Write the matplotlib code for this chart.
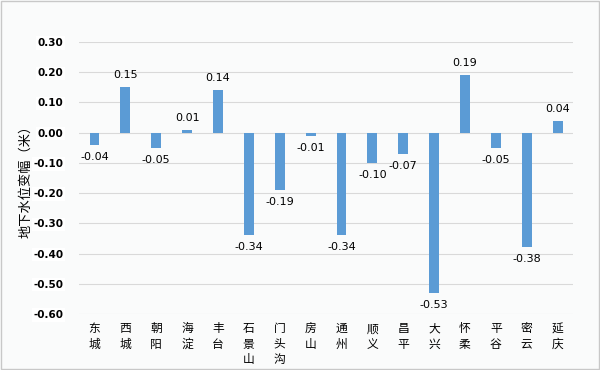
import matplotlib.pyplot as plt
import numpy as np

plt.rcParams['font.family'] = ['Noto Sans CJK SC', 'DejaVu Sans']

districts = ['东城', '西城', '朝阳', '海淀', '丰台', '石景山', '门头沟', '房山',
             '通州', '顺义', '昌平', '大兴', '怀柔', '平谷', '密云', '延庆']
changes = [-0.04, 0.15, -0.05, 0.01, 0.14, -0.34, -0.19, -0.01,
           -0.34, -0.10, -0.07, -0.53, 0.19, -0.05, -0.38, 0.04]
yticks = [0.30, 0.20, 0.10, 0.00, -0.10, -0.20, -0.30, -0.40, -0.50, -0.60]

bar_color = '#5b9bd5'
bg = '#fafbfb'

fig = plt.figure(figsize=(6, 3.7), dpi=100, facecolor=bg)
ax = fig.add_axes([0.1317, 0.1514, 0.8233, 0.7351])
ax.set_facecolor(bg)

x = np.arange(len(districts))
ax.bar(x, changes, width=0.32, color=bar_color, zorder=3)

ax.set_xlim(-0.5, len(districts) - 0.5)
ax.set_ylim(-0.6, 0.3)
ax.set_yticks(yticks)
ax.set_yticklabels(['%.2f' % v for v in yticks], fontsize=7.5, fontweight='bold',
                   family=['DejaVu Sans'],
                   bbox=dict(facecolor='white', edgecolor='none', pad=1.2))
ax.grid(axis='y', color='#d9d9d9', linewidth=0.8, zorder=0)
ax.tick_params(axis='y', length=0, pad=11)
ax.tick_params(axis='x', length=0, pad=6)
for s in ax.spines.values():
    s.set_visible(False)

ax.set_xticks(x)
ax.set_xticklabels(['\n'.join(d) for d in districts], fontsize=8.5,
                   linespacing=1.25, va='top')

# data labels
for xi, v in zip(x, changes):
    if v >= 0:
        ax.annotate('%.2f' % v, (xi, v), xytext=(0, 5), textcoords='offset points',
                    ha='center', va='bottom', fontsize=8, family=['DejaVu Sans'])
    else:
        ax.annotate('%.2f' % v, (xi, v), xytext=(0, -5), textcoords='offset points',
                    ha='center', va='top', fontsize=8, family=['DejaVu Sans'])

ax.set_ylabel('地下水位变幅（米）', fontsize=9.5, va='center')
ax.yaxis.set_label_coords(-0.108, 0.5)

# outer border
fig.patches.append(plt.Rectangle((0.002, 0.003), 0.996, 0.994, transform=fig.transFigure,
                                 fill=False, edgecolor='#c8c8c8', linewidth=1))

fig.savefig('out.png', dpi=100, facecolor=bg)
